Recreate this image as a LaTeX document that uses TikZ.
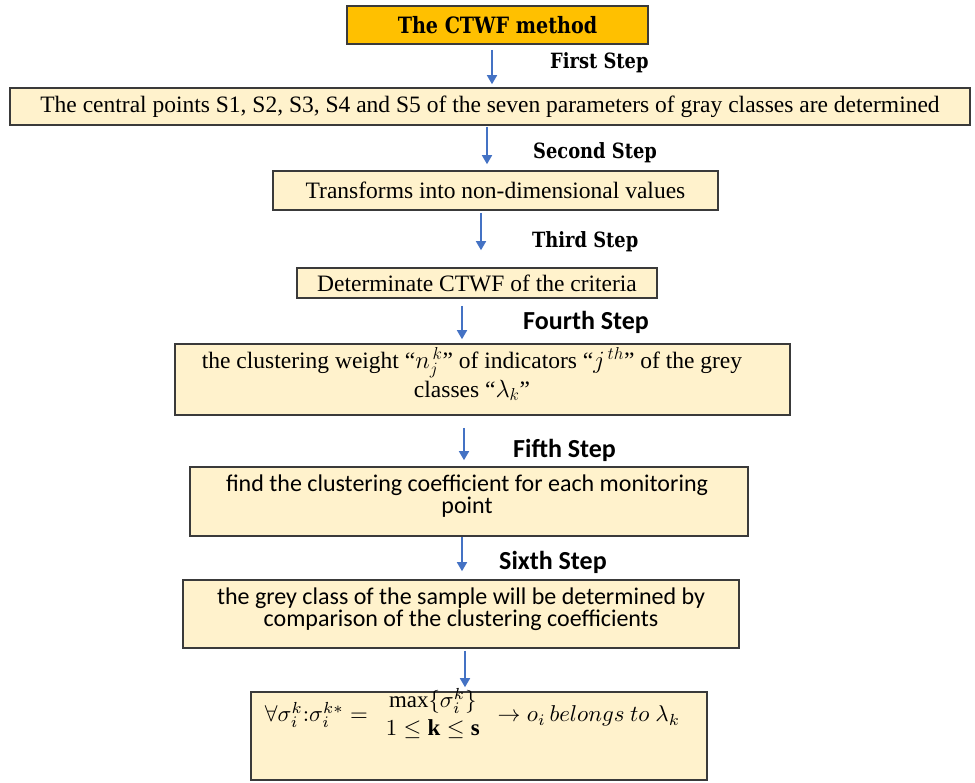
\documentclass[tikz,border=0pt]{standalone}
\usepackage{fontspec}
\setmainfont{Liberation Serif}
\newfontfamily\serifbold{DejaVu Serif}[FakeStretch=0.85]
\newfontfamily\carlito{Carlito}
\usetikzlibrary{arrows.meta}
\definecolor{boxfill}{HTML}{FFF2CC}
\definecolor{titlefill}{HTML}{FFC000}
\definecolor{arrowblue}{HTML}{4472C4}
\definecolor{edgegray}{HTML}{3A3A3A}
\begin{document}
\begin{tikzpicture}[x=1pt,y=-1pt,
  stepbox/.style={draw=edgegray,line width=1.6pt,fill=boxfill,inner sep=0pt},
  titlebox/.style={draw=edgegray,line width=1.6pt,fill=titlefill,inner sep=0pt,
     font=\serifbold\bfseries\fontsize{22.5}{26}\selectfont},
  serifbox/.style={font=\fontsize{23.5}{24}\selectfont},
  calbox/.style={font=\carlito\fontsize{24}{22}\selectfont,align=center},
  steplabel/.style={anchor=west,inner sep=0pt,font=\serifbold\bfseries\fontsize{21}{26}\selectfont},
  calstep/.style={anchor=west,inner sep=0pt,font=\carlito\fontsize{26}{28}\selectfont\bfseries},
  flow/.style={draw=arrowblue,line width=1.6pt,-{Triangle[length=9pt,width=10pt]}}]
\useasboundingbox (0,0) rectangle (975,783);
\fill[white] (0,0) rectangle (975,783);

\node[titlebox,minimum width=301pt,minimum height=38pt] (title) at (497.5,25) {The CTWF method};
\node[stepbox,serifbox,minimum width=960pt,minimum height=37pt] (b1) at (490,106.5)
  {The central points S1, S2, S3, S4 and S5 of the seven parameters of gray classes are determined};
\node[stepbox,serifbox,minimum width=445pt,minimum height=39pt] (b2) at (495.5,190.5)
  {Transforms into non-dimensional values};
\node[stepbox,serifbox,minimum width=360pt,minimum height=30pt] (b3) at (477,283)
  {Determinate CTWF of the criteria};
\node[stepbox,minimum width=615pt,minimum height=71pt] (b4) at (482.5,379.5) {};
\node[serifbox,align=center,inner sep=0pt] (t4) at (472,374)
  {the clustering weight ``$n_j^{\,k}$'' of indicators ``$j^{\,th}$'' of the grey\\[1pt] classes ``$\lambda_k$''};
\node[stepbox,minimum width=558pt,minimum height=69pt] (b5) at (469,501.5) {};
\node[calbox,inner sep=0pt] (t5) at (467,496)
  {find the clustering coefficient for each monitoring\\ point};
\node[stepbox,minimum width=556pt,minimum height=68pt] (b6) at (461,614) {};
\node[calbox,inner sep=0pt] (t6) at (461,609)
  {the grey class of the sample will be determined by\\ comparison of the clustering coefficients};
\node[stepbox,minimum width=456pt,minimum height=88pt] (b7) at (479,736) {};
\node[inner sep=0pt] (t7) at (472.5,716)
  {\resizebox{415pt}{!}{$\forall\sigma_i^k{:}\sigma_i^{k*} = \renewcommand{\arraystretch}{1.0}\begin{array}{c}\max\{\sigma_i^k\}\\ 1\le \mathbf{k}\le \mathbf{s}\end{array} \rightarrow o_i\, belongs\ to\ \lambda_k$}};

\node[steplabel] (s1) at (550,63) {First Step};
\node[steplabel] (s2) at (533,153) {Second Step};
\node[steplabel] (s3) at (532,242) {Third Step};
\node[calstep] (s4) at (523,322) {Fourth Step};
\node[calstep] (s5) at (513,450) {Fifth Step};
\node[calstep] (s6) at (499,562) {Sixth Step};

\draw[flow,shorten <=5pt,shorten >=3pt] (title.south -| 492,0) -- (b1.north -| 492,0);
\draw[flow,shorten <=1pt,shorten >=6pt] (b1.south -| 487,0) -- (b2.north -| 487,0);
\draw[flow,shorten <=2pt,shorten >=17pt] (b2.south -| 481,0) -- (b3.north -| 481,0);
\draw[flow,shorten <=7pt,shorten >=4pt] (b3.south -| 462,0) -- (b4.north -| 462,0);
\draw[flow,shorten <=12pt,shorten >=6pt] (b4.south -| 464,0) -- (b5.north -| 464,0);
\draw[flow,shorten <=0pt,shorten >=8pt] (b5.south -| 462,0) -- (b6.north -| 462,0);
\draw[flow,shorten <=2pt,shorten >=4pt] (b6.south -| 465,0) -- (b7.north -| 465,0);
\end{tikzpicture}
\end{document}
